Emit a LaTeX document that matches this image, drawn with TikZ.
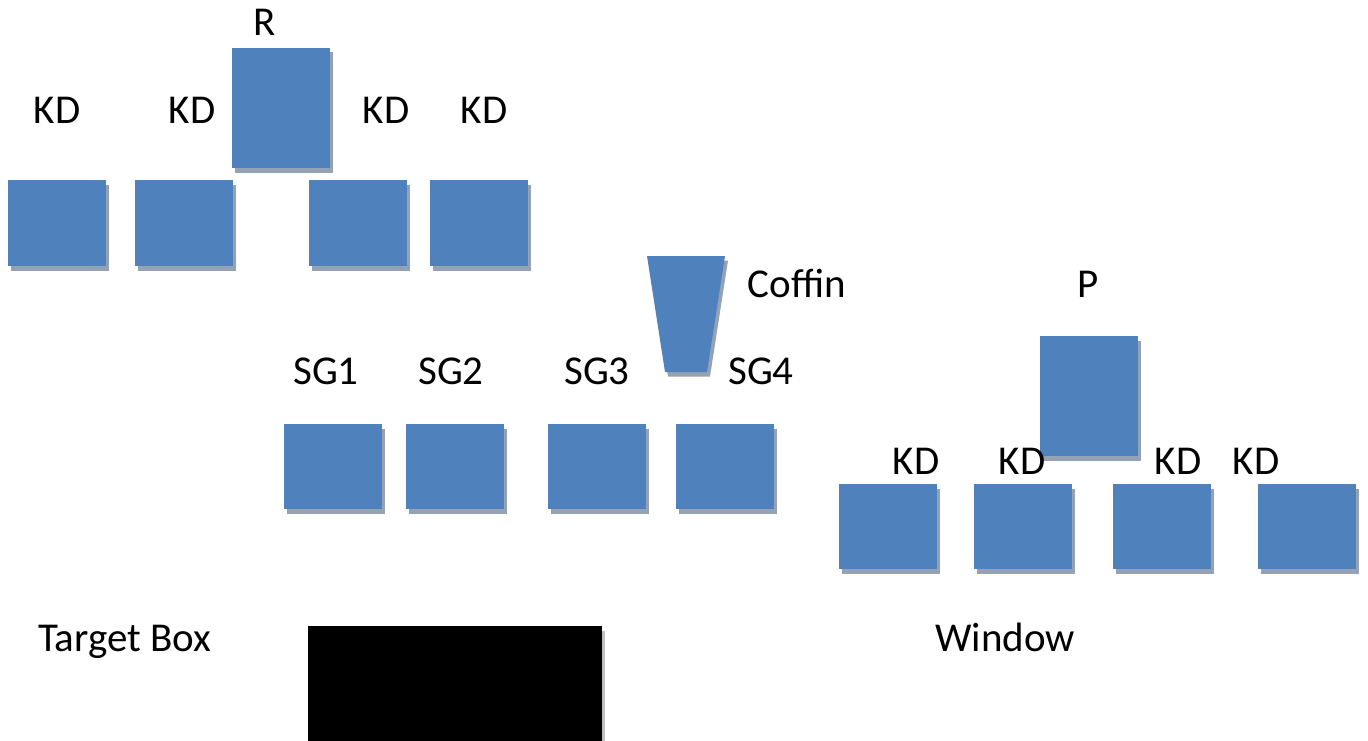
\documentclass[tikz,border=0pt]{standalone}
\usepackage{fontspec}
\setmainfont{Carlito}
\usetikzlibrary{shadows}
\definecolor{boxblue}{RGB}{79,129,189}
\definecolor{shgray}{RGB}{149,162,178}
\definecolor{lightsh}{RGB}{192,192,192}
\tikzset{
  blk/.style={fill=boxblue, draw=none, inner sep=0pt, outer sep=0pt, anchor=north west,
    drop shadow={shadow xshift=3pt, shadow yshift=-4.5pt, fill=shgray, opacity=1}},
  sqbox/.style={blk, minimum width=98pt, minimum height=86pt},
  tallbox/.style={blk, minimum width=98pt, minimum height=120pt},
  lbl/.style={font=\fontsize{41}{49}\selectfont, inner sep=0pt, anchor=base},
}
\begin{document}
\begin{tikzpicture}[x=1pt,y=-1pt]
\clip (0,0) rectangle (1368,741);
\fill[white] (0,0) rectangle (1368,741);

% top group
\node[tallbox] (rbox) at (232,48) {};
\node[sqbox] (a1) at (8,180) {};
\node[sqbox] (a2) at (135,180) {};
\node[sqbox] (a3) at (309,180) {};
\node[sqbox] (a4) at (430,180) {};

% coffin
\coordinate (coffin) at (686,314);
\path[fill=boxblue, drop shadow={shadow xshift=3pt, shadow yshift=-4.5pt, fill=shgray, opacity=1}]
  (647,256) -- (725,256) -- (707,372) -- (665,372) -- cycle;

% SG group
\node[sqbox, minimum height=85pt] (s1) at (284,424) {};
\node[sqbox, minimum height=85pt] (s2) at (406,424) {};
\node[sqbox, minimum height=85pt] (s3) at (548,424) {};
\node[sqbox, minimum height=85pt] (s4) at (676,424) {};

% right group
\node[tallbox] (pbox) at (1040,336) {};
\node[sqbox, minimum height=85pt] (c1) at (839,484) {};
\node[sqbox, minimum height=85pt] (c2) at (974,484) {};
\node[sqbox, minimum height=85pt] (c3) at (1113,484) {};
\node[sqbox, minimum height=85pt] (c4) at (1258,484) {};

% target box
\node[fill=black, draw=none, inner sep=0pt, outer sep=0pt, anchor=north west,
  minimum width=294pt, minimum height=130pt,
  drop shadow={shadow xshift=3pt, shadow yshift=-5pt, fill=lightsh, opacity=1}] (target) at (308,626) {};

% labels
\node[lbl] (lr) at (265,36) {R};
\node[lbl] (k1) at (57,124) {KD};
\node[lbl] (k2) at (192,124) {KD};
\node[lbl] (k3) at (386,124) {KD};
\node[lbl] (k4) at (484,124) {KD};
\node[lbl] (lcoffin) at (797,297) {Coffin};
\node[lbl] (lp) at (1088,297) {P};
\node[lbl] (g1) at (326,384) {SG1};
\node[lbl] (g2) at (451,384) {SG2};
\node[lbl] (g3) at (597,384) {SG3};
\node[lbl] (g4) at (761,384) {SG4};
\node[lbl] (d1) at (916,474) {KD};
\node[lbl] (d2) at (1022,474) {KD};
\node[lbl] (d3) at (1178,474) {KD};
\node[lbl] (d4) at (1256,474) {KD};
\node[lbl, anchor=base west] (ltarget) at (38,651) {Target Box};
\node[lbl] (lwindow) at (1005,651) {Window};
\end{tikzpicture}
\end{document}
